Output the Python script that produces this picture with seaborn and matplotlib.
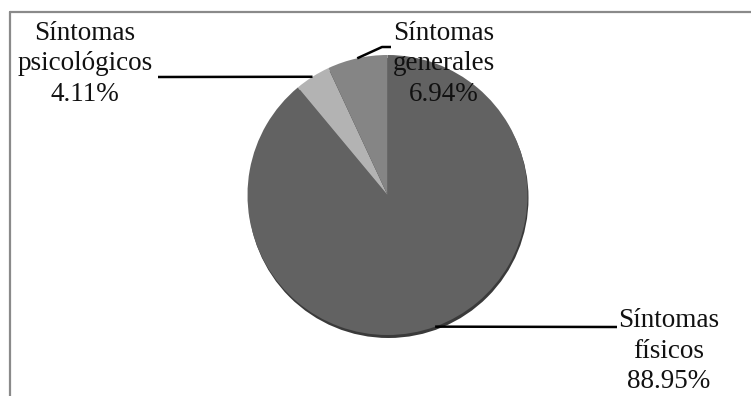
import numpy as np
import matplotlib
matplotlib.use("Agg")
import matplotlib.pyplot as plt
from matplotlib.patches import Circle
from matplotlib.lines import Line2D
import seaborn as sns

# Distribución de síntomas (%)
categorias = ["Síntomas\nfísicos", "Síntomas\npsicológicos", "Síntomas\ngenerales"]
porcentajes = [88.95, 4.11, 6.94]
etiquetas = ["88.95%", "4.11%", "6.94%"]
colores = ["#626262", "#b3b3b3", "#858585"]

sns.set_theme(style="white")
plt.rcParams["font.family"] = ["Liberation Serif", "DejaVu Serif"]

W, H = 751, 396
fig = plt.figure(figsize=(W / 100, H / 100), dpi=100)
ax = fig.add_axes([0, 0, 1, 1])

cx, cy, r = 387.5, H - 195, 140

# sombra bajo el pastel
ax.add_patch(Circle((cx + 1, cy - 3), r, facecolor="#3a3a3a", edgecolor="none", zorder=1))

wedges, _ = ax.pie(porcentajes, colors=colores, startangle=90, counterclock=False,
                   radius=r, center=(cx, cy), wedgeprops=dict(linewidth=0, zorder=2))
ax.set_xlim(0, W)
ax.set_ylim(0, H)
ax.set_aspect("equal")
ax.axis("off")

# posición de cada rótulo y final de su línea guía
pos_texto = [(669, H - 351), (85, H - 64), (444, H - 64)]
fin_guia = [[(617, H - 327)], [(158, H - 77)], [(382, H - 47), (391, H - 47)]]

for w, cat, lab, (tx, ty), fin in zip(wedges, categorias, etiquetas, pos_texto, fin_guia):
    ang = np.deg2rad((w.theta1 + w.theta2) / 2)
    x0, y0 = cx + r * np.cos(ang), cy + r * np.sin(ang)
    xs = [x0] + [p[0] for p in fin]
    ys = [y0] + [p[1] for p in fin]
    ax.plot(xs, ys, color="black", lw=1.8, solid_capstyle="butt", zorder=3)
    ax.text(tx, ty, f"{cat}\n{lab}", ha="center", va="center", multialignment="center",
            fontsize=19.5, color="#111111", linespacing=1.3, zorder=4)

# marco del gráfico
borde = "#8a8a8a"
fig.add_artist(Line2D([10 / W, 10 / W], [0, 1 - 12 / H], color=borde, lw=1.6,
                      transform=fig.transFigure))
fig.add_artist(Line2D([10 / W, 1], [1 - 12 / H, 1 - 12 / H], color=borde, lw=1.6,
                      transform=fig.transFigure))

fig.savefig("out.png", dpi=100, facecolor="white")
